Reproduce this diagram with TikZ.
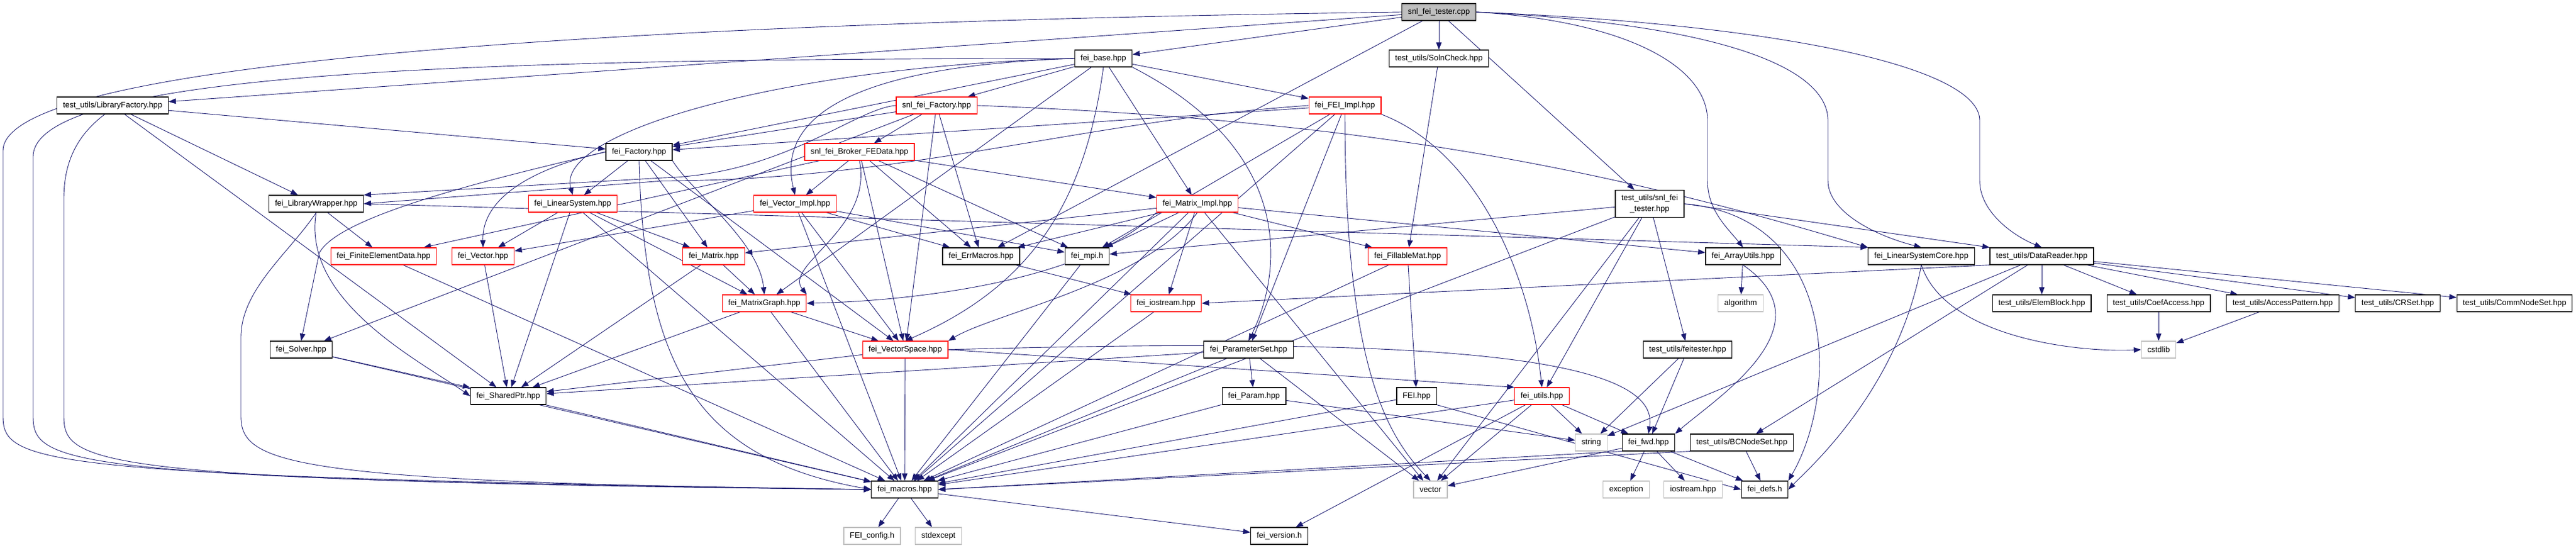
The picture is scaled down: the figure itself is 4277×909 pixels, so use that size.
\documentclass[tikz,border=0pt]{standalone}
\usepackage{fontspec}
\setmainfont{Liberation Sans}
\usepackage{tikz}
\usetikzlibrary{arrows.meta, backgrounds}
\definecolor{edgeblue}{RGB}{25,25,112}
\definecolor{boxgray}{RGB}{191,191,191}
\newcommand{\graphfont}{\fontsize{13.2}{18}\selectfont}
\tikzstyle{file_node} = [
    rectangle,
    draw=black,
    fill=white,
    line width=1.2pt,
    font=\graphfont,
    inner xsep=10pt,
    inner ysep=0pt,
    minimum height=28pt
]
\tikzstyle{red_node} = [
    file_node,
    draw=red
]
\tikzstyle{sys_node} = [
    file_node,
    draw=boxgray
]
\tikzstyle{root_node} = [
    file_node,
    fill=boxgray
]
\tikzstyle{dep} = [
    draw=edgeblue,
    line width=0.9pt,
    -{Triangle[length=12pt,width=9pt]}
]

\begin{document}
\begin{tikzpicture}[x=1pt, y=-1pt]
\useasboundingbox (0,0) rectangle (4277,909);

% top rows
\node [root_node] (tester) at (2389,20) {snl\_fei\_tester.cpp};
\node [file_node] (solncheck) at (2389,97) {test\_utils/SolnCheck.hpp};
\node [file_node] (base) at (1832,97) {fei\_base.hpp};
\node [file_node] (libfactory) at (187,175) {test\_utils/LibraryFactory.hpp};
\node [red_node] (snlfactory) at (1555,175) {snl\_fei\_Factory.hpp};
\node [red_node] (feiimpl) at (2233,175) {fei\_FEI\_Impl.hpp};
\node [file_node] (factory) at (1061,252) {fei\_Factory.hpp};
\node [red_node] (broker) at (1427,252) {snl\_fei\_Broker\_FEData.hpp};
\node [file_node] (libwrapper) at (525,338) {fei\_LibraryWrapper.hpp};
\node [red_node] (linsys) at (951,338) {fei\_LinearSystem.hpp};
\node [red_node] (vecimpl) at (1320,338) {fei\_Vector\_Impl.hpp};
\node [red_node] (matimpl) at (1988,338) {fei\_Matrix\_Impl.hpp};
\node [file_node, align=center, minimum height=45pt] (snltester) at (2739,338) {test\_utils/snl\_fei\\\_tester.hpp};

% middle rows
\node [red_node] (fed) at (637,425) {fei\_FiniteElementData.hpp};
\node [red_node] (vec) at (802,425) {fei\_Vector.hpp};
\node [red_node] (mat) at (1185,425) {fei\_Matrix.hpp};
\node [file_node] (errmacros) at (1629,425) {fei\_ErrMacros.hpp};
\node [file_node] (mpi) at (1805,425) {fei\_mpi.h};
\node [red_node] (fillable) at (2337,425) {fei\_FillableMat.hpp};
\node [file_node] (arrayutils) at (2894,425) {fei\_ArrayUtils.hpp};
\node [file_node] (lscore) at (3190,425) {fei\_LinearSystemCore.hpp};
\node [file_node] (datareader) at (3390,425) {test\_utils/DataReader.hpp};
\node [red_node] (matgraph) at (1269,503) {fei\_MatrixGraph.hpp};
\node [red_node] (iostr) at (1936,503) {fei\_iostream.hpp};
\node [sys_node] (algorithm) at (2890,503) {algorithm};
\node [file_node] (elemblock) at (3390,503) {test\_utils/ElemBlock.hpp};
\node [file_node] (coefaccess) at (3584,503) {test\_utils/CoefAccess.hpp};
\node [file_node] (accesspattern) at (3790,503) {test\_utils/AccessPattern.hpp};
\node [file_node] (crset) at (3981,503) {test\_utils/CRSet.hpp};
\node [file_node] (commnodeset) at (4175,503) {test\_utils/CommNodeSet.hpp};
\node [file_node] (solver) at (500,580) {fei\_Solver.hpp};
\node [red_node] (vecspace) at (1503,580) {fei\_VectorSpace.hpp};
\node [file_node] (paramset) at (2073,580) {fei\_ParameterSet.hpp};
\node [file_node] (feitester) at (2802,580) {test\_utils/feitester.hpp};
\node [sys_node] (cstdlib) at (3584,580) {cstdlib};

% bottom rows
\node [file_node] (sharedptr) at (844,657) {fei\_SharedPtr.hpp};
\node [file_node] (param) at (2082,657) {fei\_Param.hpp};
\node [file_node] (feih) at (2352,657) {FEI.hpp};
\node [red_node] (utils) at (2560,657) {fei\_utils.hpp};
\node [sys_node] (string) at (2642,734) {string};
\node [file_node] (fwd) at (2737,734) {fei\_fwd.hpp};
\node [file_node] (bcnodeset) at (2892,734) {test\_utils/BCNodeSet.hpp};
\node [file_node] (macros) at (1502,812) {fei\_macros.hpp};
\node [sys_node] (vector) at (2375,812) {vector};
\node [sys_node] (exception) at (2700,812) {exception};
\node [sys_node] (iostreamh) at (2811,812) {iostream.hpp};
\node [file_node] (defs) at (2930,812) {fei\_defs.h};
\node [sys_node] (config) at (1448,889) {FEI\_config.h};
\node [sys_node] (stdexcept) at (1558,889) {stdexcept};
\node [file_node] (version) at (2124,889) {fei\_version.h};

\begin{scope}[on background layer]
% long routed includes
\draw [dep] (tester.west) .. controls (1200,35) and (5,90) .. (5,250) -- (5,690) .. controls (5,770) and (60,790) .. (macros.west);
\draw [dep] (base.west) .. controls (900,98) and (55,110) .. (55,260) -- (55,690) .. controls (55,770) and (100,795) .. (macros.west);
\draw [dep] (libfactory.south west) ++(80,0) .. controls (120,230) and (106,280) .. (106,330) -- (106,690) .. controls (106,770) and (150,798) .. (macros.west);
\draw [dep] (libwrapper.south) .. controls (480,420) and (400,480) .. (400,560) -- (400,690) .. controls (400,770) and (480,800) .. (macros.west);
\draw [dep] (tester.east) .. controls (2700,35) and (2835,110) .. (2835,200) -- (2835,300) .. controls (2835,350) and (2870,380) .. (arrayutils.north);
\draw [dep] (tester.east) .. controls (2850,40) and (3035,110) .. (3035,200) -- (3035,300) .. controls (3035,350) and (3110,390) .. (lscore.north);
\draw [dep] (tester.east) .. controls (2950,40) and (3287,110) .. (3287,200) -- (3287,300) .. controls (3287,350) and (3340,390) .. (datareader.north);
\draw [dep] (base.west) .. controls (1400,110) and (1290,200) .. (vecimpl.north);
\draw [dep] (base.west) .. controls (1300,110) and (920,220) .. (linsys.north);
\draw [dep] (base.south) .. controls (1800,350) and (1700,480) .. (vecspace.north);
\draw [dep] (base.south east) .. controls (2150,250) and (2130,450) .. (paramset.north);
\draw [dep] (snlfactory.west) .. controls (1420,180) and (1300,290) .. (1100,295) -- (libwrapper.north east);
\draw [dep] (snlfactory.east) .. controls (2300,200) and (2700,290) .. (lscore.north west);
\draw [dep] (feiimpl.west) .. controls (1800,200) and (1500,300) .. (1100,300) -- (libwrapper.east);
\draw [dep] (feiimpl.south east) .. controls (2450,250) and (2540,450) .. (utils.north);
\draw [dep] (feiimpl.south) .. controls (2233,600) and (2300,720) .. (vector.north);
\draw [dep] (factory.west) .. controls (800,300) and (560,360) .. (530,420) -- (solver.north);
\draw [dep] (factory.west) .. controls (880,280) and (800,330) .. (vec.north);
\draw [dep] (factory.south) .. controls (1070,600) and (1150,760) .. (macros.west);
\draw [dep] (factory.south east) .. controls (1150,320) and (1260,400) .. (matgraph.north);
\draw [dep] (broker.south) .. controls (1450,380) and (1300,440) .. (matgraph.north east);
\draw [dep] (matimpl.south west) .. controls (1800,470) and (1500,500) .. (matgraph.east);
\draw [dep] (matimpl.south) .. controls (1900,470) and (1650,520) .. (vecspace.north east);
\draw [dep] (libwrapper.south) .. controls (500,500) and (700,600) .. (sharedptr.west);
\draw [dep] (libwrapper.east) -- (lscore.north west);
\draw [dep] (snltester.east) .. controls (3050,360) and (3055,650) .. (defs.north east);
\draw [dep] (snltester.east) -- (datareader.north west);
\draw [dep] (datareader.south west) -- (iostr.east);
\draw [dep] (lscore.south) .. controls (3150,650) and (3000,780) .. (defs.east);
\draw [dep] (lscore.south) .. controls (3230,560) and (3450,585) .. (cstdlib.west);
\draw [dep] (arrayutils.south) .. controls (3040,540) and (2850,660) .. (fwd.north east);
\draw [dep] (vecspace.east) -- (utils.north west);
\draw [dep] (vecspace.east) .. controls (2300,560) and (2760,580) .. (fwd.north);
\draw [dep] (feih.south east) -- (defs.west);
\draw [dep] (fwd.south west) -- (macros.east);
\draw [dep] (bcnodeset.south west) -- (macros.east);

% straight includes
\path (tester) edge[dep] (base) edge[dep] (solncheck) edge[dep] (libfactory)
    edge[dep] (errmacros) edge[dep] (snltester);
\path (solncheck) edge[dep] (fillable);
\path (base) edge[dep] (snlfactory) edge[dep] (feiimpl) edge[dep] (factory)
    edge[dep] (matimpl) edge[dep] (matgraph);
\path (libfactory) edge[dep] (factory) edge[dep] (libwrapper) edge[dep] (sharedptr);
\path (snlfactory) edge[dep] (factory) edge[dep] (broker) edge[dep] (errmacros)
    edge[dep] (vecspace) edge[dep] (solver);
\path (feiimpl) edge[dep] (factory) edge[dep] (mpi) edge[dep] (macros)
    edge[dep] (paramset);
\path (factory) edge[dep] (linsys) edge[dep] (mat) edge[dep] (vecspace);
\path (broker) edge[dep] (fed) edge[dep] (vecimpl) edge[dep] (matimpl)
    edge[dep] (errmacros) edge[dep] (mpi) edge[dep] (vecspace);
\path (libwrapper) edge[dep] (fed);
\path (linsys) edge[dep] (vec) edge[dep] (mat) edge[dep] (matgraph)
    edge[dep] (sharedptr) edge[dep] (macros);
\path (vecimpl) edge[dep] (vec) edge[dep] (vecspace) edge[dep] (macros)
    edge[dep] (errmacros) edge[dep] (mpi);
\path (matimpl) edge[dep] (mat) edge[dep] (errmacros) edge[dep] (mpi)
    edge[dep] (iostr) edge[dep] (macros) edge[dep] (fillable) edge[dep] (arrayutils)
    edge[dep] (vector);
\path (snltester) edge[dep] (feitester) edge[dep] (utils) edge[dep] (mpi)
    edge[dep] (macros) edge[dep] (vector);
\path (fed) edge[dep] (macros);
\path (vec) edge[dep] (sharedptr);
\path (mat) edge[dep] (matgraph) edge[dep] (sharedptr);
\path (errmacros) edge[dep] (iostr);
\path (mpi) edge[dep] (macros);
\path (fillable) edge[dep] (macros) edge[dep] (feih);
\path (arrayutils) edge[dep] (algorithm);
\path (datareader) edge[dep] (string) edge[dep] (bcnodeset)
    edge[dep] (elemblock) edge[dep] (coefaccess) edge[dep] (accesspattern)
    edge[dep] (crset) edge[dep] (commnodeset);
\path (matgraph) edge[dep] (sharedptr) edge[dep] (vecspace) edge[dep] (macros);
\path (iostr) edge[dep] (macros);
\path (coefaccess) edge[dep] (cstdlib);
\path (accesspattern) edge[dep] (cstdlib);
\path (solver) edge[dep] (sharedptr) edge[dep] (macros);
\path (vecspace) edge[dep] (sharedptr) edge[dep] (macros);
\path (paramset) edge[dep] (param) edge[dep] (macros) edge[dep] (vector)
    edge[dep] (sharedptr);
\path (feitester) edge[dep] (string) edge[dep] (fwd);
\path (sharedptr) edge[dep] (macros);
\path (param) edge[dep] (macros) edge[dep] (string);
\path (feih) edge[dep] (macros);
\path (utils) edge[dep] (string) edge[dep] (fwd) edge[dep] (vector)
    edge[dep] (macros) edge[dep] (version);
\path (fwd) edge[dep] (exception) edge[dep] (iostreamh) edge[dep] (defs)
    edge[dep] (vector);
\path (bcnodeset) edge[dep] (defs);
\path (macros) edge[dep] (config) edge[dep] (stdexcept) edge[dep] (version);
\end{scope}
\end{tikzpicture}
\end{document}
